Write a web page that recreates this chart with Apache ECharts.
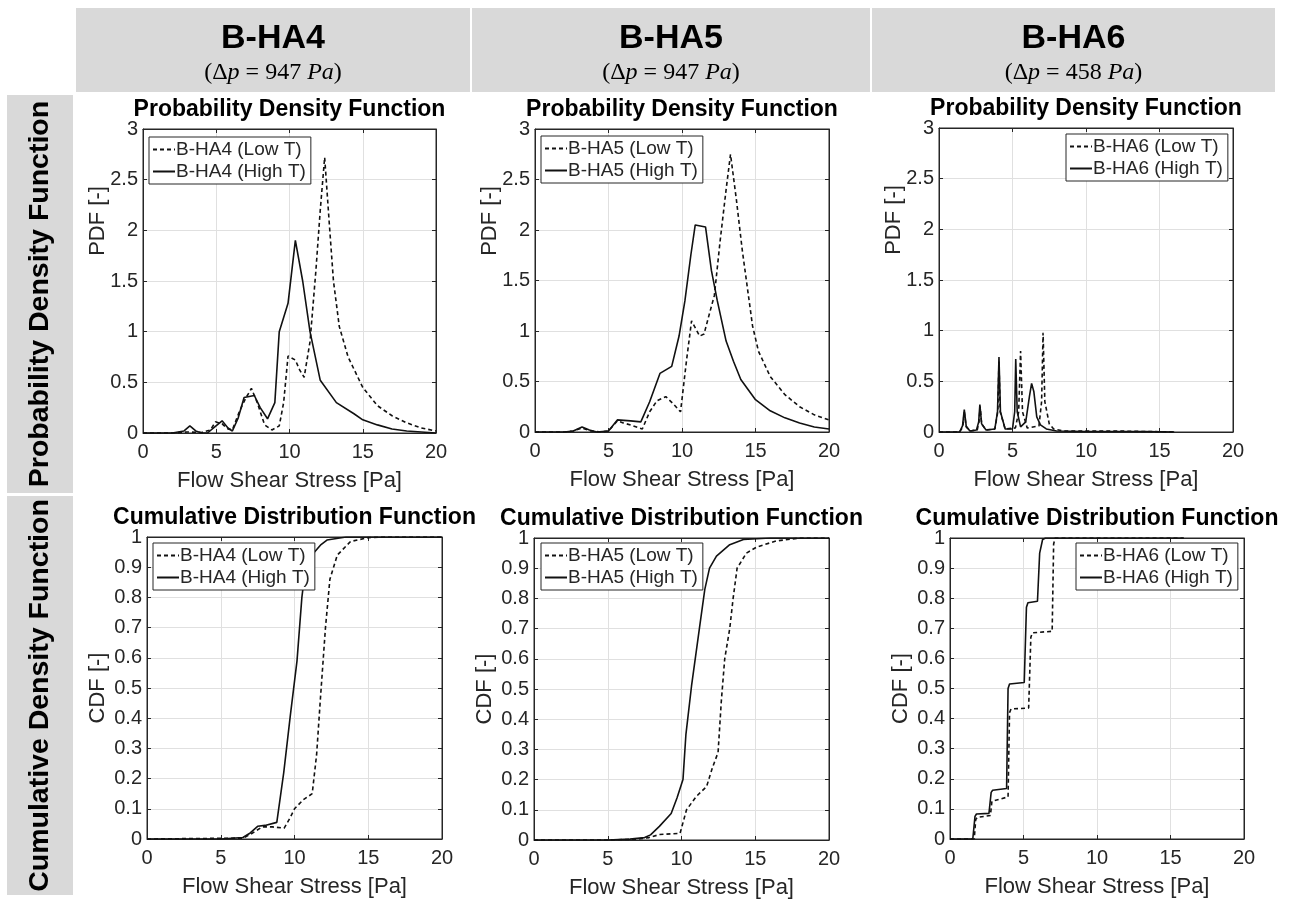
<!DOCTYPE html>
<html>
<head>
<meta charset="utf-8">
<script src="https://cdn.jsdelivr.net/npm/echarts@6/dist/echarts.min.js"></script>
<style>
html,body{margin:0;padding:0;background:#fff;}
#chart{width:1292px;height:900px;}
</style>
</head>
<body>
<div id="chart"></div>
<script>
// ---------------- DATA ----------------
const columnTitles = ['B-HA4', 'B-HA5', 'B-HA6'];
const pressureDrops = ['947', '947', '458'];
const rowTitles = ['Probability Density Function', 'Cumulative Density Function'];
const panelTitles = ['Probability Density Function', 'Cumulative Distribution Function'];
const xAxisName = 'Flow Shear Stress [Pa]';
const yAxisNames = ['PDF [-]', 'CDF [-]'];
const xTicks = [0, 5, 10, 15, 20];
const pdfTicks = [0, 0.5, 1, 1.5, 2, 2.5, 3];
const cdfTicks = [0, 0.1, 0.2, 0.3, 0.4, 0.5, 0.6, 0.7, 0.8, 0.9, 1];

// PDF  B-HA4
const pdfHA4Low = [[0,0],[1,0],[2,0],[3,0.01],[4,0.005],[4.6,0.03],[4.95,0.11],[5.4,0.09],[5.8,0.04],[6.1,0.03],[6.6,0.22],[7.0,0.34],[7.4,0.44],[7.8,0.3],[8.3,0.08],[8.8,0.03],[9.3,0.07],[9.6,0.3],[9.9,0.76],[10.4,0.72],[10.7,0.62],[11.0,0.55],[11.4,0.9],[11.8,1.6],[12.1,2.2],[12.4,2.72],[12.7,2.1],[13.0,1.5],[13.4,1.05],[14.0,0.75],[14.5,0.6],[15.0,0.45],[16.0,0.27],[17.0,0.17],[18.0,0.1],[19.0,0.05],[20,0.02]];
const pdfHA4High = [[0,0],[1,0],[2,0],[2.8,0.02],[3.2,0.07],[3.6,0.02],[4.0,0],[4.4,0],[4.9,0.06],[5.4,0.12],[5.8,0.05],[6.1,0.02],[6.5,0.15],[6.9,0.35],[7.6,0.37],[8.0,0.25],[8.5,0.14],[9.0,0.3],[9.3,1.0],[9.9,1.28],[10.4,1.9],[10.9,1.5],[11.4,1.0],[12.1,0.52],[13.2,0.3],[14.4,0.19],[15.0,0.13],[16,0.08],[17,0.04],[18,0.02],[19,0.01],[20,0]];
// PDF  B-HA5
const pdfHA5Low = [[0,0],[1,0],[2,0],[2.6,0.01],[3.2,0.04],[3.8,0.01],[4.5,0],[5.0,0.01],[5.6,0.11],[6.0,0.09],[6.5,0.07],[7.3,0.03],[7.8,0.2],[8.3,0.31],[8.9,0.35],[9.4,0.28],[9.9,0.2],[10.3,0.7],[10.65,1.1],[11.2,0.95],[11.5,0.97],[11.9,1.19],[12.2,1.35],[12.6,1.9],[13.0,2.4],[13.3,2.75],[13.7,2.3],[14.1,1.8],[14.8,1.05],[15.2,0.8],[16,0.55],[17,0.37],[18,0.25],[19,0.17],[20,0.12]];
const pdfHA5High = [[0,0],[1,0],[2,0],[2.6,0.01],[3.2,0.05],[3.7,0.02],[4.2,0],[5.0,0.01],[5.6,0.12],[6.5,0.11],[7.2,0.1],[7.8,0.3],[8.5,0.58],[9.3,0.65],[9.8,0.95],[10.2,1.3],[10.6,1.75],[10.9,2.05],[11.6,2.03],[12.0,1.6],[12.4,1.3],[13.0,0.9],[13.5,0.7],[14.0,0.52],[15.0,0.32],[16,0.21],[17,0.14],[18,0.09],[19,0.05],[20,0.03]];
// PDF  B-HA6
const pdfHA6Low = [[0,0],[1.4,0],[1.62,0.05],[1.72,0.2],[1.85,0.05],[2.1,0.01],[2.6,0.02],[2.72,0.1],[2.8,0.25],[2.9,0.08],[3.2,0.02],[3.8,0.03],[4.0,0.2],[4.08,0.7],[4.16,0.2],[4.5,0.03],[5.2,0.04],[5.42,0.2],[5.55,0.8],[5.68,0.2],[6.0,0.04],[6.8,0.06],[6.98,0.3],[7.08,0.98],[7.2,0.3],[7.5,0.08],[7.8,0.03],[8.5,0.01],[12,0.01],[16,0]];
const pdfHA6High = [[0,0],[1.4,0],[1.6,0.06],[1.72,0.22],[1.85,0.06],[2.1,0.01],[2.55,0.02],[2.7,0.1],[2.78,0.27],[2.9,0.08],[3.2,0.02],[3.8,0.03],[3.98,0.2],[4.08,0.74],[4.18,0.2],[4.5,0.03],[5.0,0.03],[5.15,0.2],[5.22,0.72],[5.32,0.2],[5.55,0.05],[5.9,0.1],[6.15,0.35],[6.3,0.48],[6.45,0.4],[6.65,0.15],[6.9,0.07],[7.3,0.03],[8,0.01],[10,0.005],[14,0.005],[16,0]];
// CDF  B-HA4
const cdfHA4Low = [[0,0],[6.5,0.003],[7.0,0.015],[7.8,0.04],[8.5,0.04],[9.3,0.036],[9.7,0.07],[10.0,0.1],[10.6,0.13],[11.2,0.15],[11.5,0.28],[11.75,0.46],[12.1,0.7],[12.4,0.86],[12.9,0.94],[13.8,0.985],[15,0.998],[16,1],[20,1]];
const cdfHA4High = [[0,0],[5,0],[6.5,0.005],[7.0,0.02],[7.5,0.042],[8.0,0.045],[8.8,0.055],[9.27,0.22],[9.72,0.41],[10.17,0.59],[10.5,0.8],[10.75,0.9],[11.3,0.947],[11.8,0.975],[12.2,0.99],[13.5,1],[20,1]];
// CDF  B-HA5
const cdfHA5Low = [[0,0],[5,0],[7,0.003],[7.8,0.008],[8.5,0.018],[9.9,0.022],[10.34,0.1],[11.0,0.144],[11.7,0.177],[12.1,0.24],[12.48,0.29],[12.7,0.46],[12.93,0.6],[13.27,0.7],[13.5,0.8],[13.77,0.9],[14.4,0.95],[15.1,0.97],[16.4,0.99],[18,1],[20,1]];
const cdfHA5High = [[0,0],[5,0],[6.5,0.003],[7.5,0.008],[7.9,0.017],[8.5,0.045],[9.3,0.088],[9.7,0.14],[10.1,0.2],[10.3,0.35],[10.68,0.51],[11.24,0.71],[11.58,0.83],[11.9,0.9],[12.37,0.94],[13.27,0.978],[14.2,0.995],[16,1],[20,1]];
// CDF  B-HA6
const cdfHA6Low = [[0,0],[1.65,0],[1.75,0.065],[1.85,0.072],[2.75,0.078],[2.85,0.125],[2.95,0.13],[3.95,0.14],[4.05,0.42],[4.15,0.432],[5.35,0.435],[5.5,0.67],[5.6,0.685],[6.95,0.69],[7.05,0.98],[7.15,1.0],[15.9,1.0]];
const cdfHA6High = [[0,0],[1.55,0],[1.7,0.075],[1.8,0.083],[2.65,0.085],[2.8,0.155],[2.9,0.162],[3.85,0.168],[3.95,0.5],[4.05,0.515],[5.05,0.52],[5.2,0.77],[5.3,0.785],[5.95,0.79],[6.1,0.95],[6.3,0.995],[6.5,1.0],[15.9,1.0]];

// ---------------- LAYOUT ----------------
const panels = [
  {row:0, col:0, grid:{left:143, top:129, width:293, height:304}, low:pdfHA4Low, high:pdfHA4High, legend:{left:149, top:137}},
  {row:0, col:1, grid:{left:535, top:129, width:294, height:303}, low:pdfHA5Low, high:pdfHA5High, legend:{left:541, top:136}},
  {row:0, col:2, grid:{left:939, top:128, width:294, height:304}, low:pdfHA6Low, high:pdfHA6High, legend:{left:1066, top:134}},
  {row:1, col:0, grid:{left:147, top:537, width:295, height:302}, low:cdfHA4Low, high:cdfHA4High, legend:{left:153, top:543}},
  {row:1, col:1, grid:{left:534, top:538, width:295, height:302}, low:cdfHA5Low, high:cdfHA5High, legend:{left:541, top:543}},
  {row:1, col:2, grid:{left:950, top:538, width:294, height:301}, low:cdfHA6Low, high:cdfHA6High, legend:{left:1076, top:543}}
];
const headerCells = [[76, 394], [472, 398], [872, 403]];
const rowCells = [[95, 398], [496, 399]];

const AX = '#262626';
const FONT = '"Liberation Sans", Arial, sans-serif';
const grids = [], xAxes = [], yAxes = [], series = [], legends = [], graphics = [];

headerCells.forEach(function (c, i) {
  graphics.push({type:'rect', shape:{x:c[0], y:8, width:c[1], height:84}, style:{fill:'#d9d9d9'}, silent:true});
  const cx = c[0] + c[1] / 2;
  graphics.push({type:'text', x:cx, y:39, style:{text:columnTitles[i], font:'bold 34px ' + FONT, fill:'#000', align:'center', verticalAlign:'middle'}});
  graphics.push({type:'text', x:cx, y:73, style:{
    text:'{n|(Δ}{i|p}{n| = ' + pressureDrops[i] + ' }{i|Pa}{n|)}',
    align:'center', verticalAlign:'middle', fill:'#000',
    rich:{
      n:{fontFamily:'"Liberation Serif", serif', fontSize:24, fill:'#000'},
      i:{fontFamily:'"Liberation Serif", serif', fontStyle:'italic', fontSize:24, fill:'#000'}
    }}});
});
rowCells.forEach(function (c, i) {
  graphics.push({type:'rect', shape:{x:7, y:c[0], width:66, height:c[1]}, style:{fill:'#d9d9d9'}, silent:true});
  graphics.push({type:'text', x:40, y:c[0] + c[1] / 2, rotation:Math.PI / 2, style:{text:rowTitles[i], font:'bold 28.5px ' + FONT, fill:'#000', align:'center', verticalAlign:'middle'}});
});

panels.forEach(function (p, k) {
  const isPdf = p.row === 0;
  const ticks = isPdf ? pdfTicks : cdfTicks;
  const g = p.grid;
  const xMin = xTicks[0], xMax = xTicks[xTicks.length - 1], xInt = xTicks[1] - xTicks[0];
  const yMin = ticks[0], yMax = ticks[ticks.length - 1], yInt = ticks[1] - ticks[0];
  grids.push({left:g.left, top:g.top, width:g.width, height:g.height, show:true, borderColor:AX, borderWidth:1, backgroundColor:'#fff', containLabel:false});
  graphics.push({type:'text', x:g.left + g.width / 2, y:g.top - 19, style:{text:panelTitles[p.row], font:'bold 23px ' + FONT, fill:'#000', align:'center', verticalAlign:'middle'}});
  // y-axis title (placed as in the reference)
  graphics.push({type:'text', x:g.left - (isPdf ? 45 : 49), y:isPdf ? g.top + 92 : g.top + g.height / 2, rotation:Math.PI / 2,
    style:{text:yAxisNames[p.row], font:'22px ' + FONT, fill:AX, align:'center', verticalAlign:'middle'}});
  xAxes.push({
    type:'value', gridIndex:k, position:'bottom', min:xMin, max:xMax, interval:xInt,
    name:xAxisName, nameLocation:'middle', nameGap:37,
    nameTextStyle:{fontSize:22, color:AX, fontFamily:FONT},
    axisLine:{show:true, onZero:false, lineStyle:{color:AX, width:1}},
    axisTick:{show:true, inside:true, length:4, lineStyle:{color:AX}},
    axisLabel:{fontSize:20, color:AX, margin:9, fontFamily:FONT},
    splitLine:{show:true, lineStyle:{color:'#e0e0e0', width:1}}
  });
  yAxes.push({
    type:'value', gridIndex:k, position:'left', min:yMin, max:yMax, interval:yInt,
    axisLine:{show:true, onZero:false, lineStyle:{color:AX, width:1}},
    axisTick:{show:true, inside:true, length:4, lineStyle:{color:AX}},
    axisLabel:{fontSize:20, color:AX, margin:5, fontFamily:FONT,
      formatter:function (v) { return String(Math.round(v * 10) / 10); }},
    splitLine:{show:true, lineStyle:{color:'#e0e0e0', width:1}}
  });
  const prefix = columnTitles[p.col];
  const nLow = prefix + ' (Low T)', nHigh = prefix + ' (High T)';
  series.push({type:'line', name:nLow, xAxisIndex:k, yAxisIndex:k, data:p.low, symbol:'none', smooth:false,
    lineStyle:{color:'#111', width:1.6, type:[4, 3]}, itemStyle:{color:'#111'}, z:3, silent:true});
  series.push({type:'line', name:nHigh, xAxisIndex:k, yAxisIndex:k, data:p.high, symbol:'none', smooth:false,
    lineStyle:{color:'#111', width:1.6, type:'solid'}, itemStyle:{color:'#111'}, z:4, silent:true});
  legends.push({
    data:[nLow, nHigh], orient:'vertical', left:p.legend.left, top:p.legend.top,
    backgroundColor:'#fff', borderColor:AX, borderWidth:1, borderRadius:0,
    padding:[3, 5, 3, 3], itemGap:3, itemWidth:22, itemHeight:12,
    selectedMode:false,
    itemStyle:{opacity:0, color:'rgba(0,0,0,0)', borderWidth:0},
    textStyle:{fontSize:19, color:AX, padding:[0, 0, 0, -4], fontFamily:FONT},
    z:10
  });
});

// mirrored tick marks on top and right edges (MATLAB box style)
panels.forEach(function (p, k) {
  const ticks = p.row === 0 ? pdfTicks : cdfTicks;
  xAxes.push({type:'value', gridIndex:k, position:'top', min:xTicks[0], max:xTicks[xTicks.length - 1], interval:xTicks[1] - xTicks[0],
    axisLine:{show:true, onZero:false, lineStyle:{color:AX, width:1}}, axisTick:{show:true, inside:true, length:4, lineStyle:{color:AX}},
    axisLabel:{show:false}, splitLine:{show:false}});
  yAxes.push({type:'value', gridIndex:k, position:'right', min:ticks[0], max:ticks[ticks.length - 1], interval:ticks[1] - ticks[0],
    axisLine:{show:true, onZero:false, lineStyle:{color:AX, width:1}}, axisTick:{show:true, inside:true, length:4, lineStyle:{color:AX}},
    axisLabel:{show:false}, splitLine:{show:false}});
});

const chart = echarts.init(document.getElementById('chart'), null, {renderer:'canvas'});
chart.setOption({
  animation:false,
  backgroundColor:'#fff',
  grid:grids, xAxis:xAxes, yAxis:yAxes, series:series, legend:legends,
  graphic:{elements:graphics}
});
</script>
</body>
</html>
